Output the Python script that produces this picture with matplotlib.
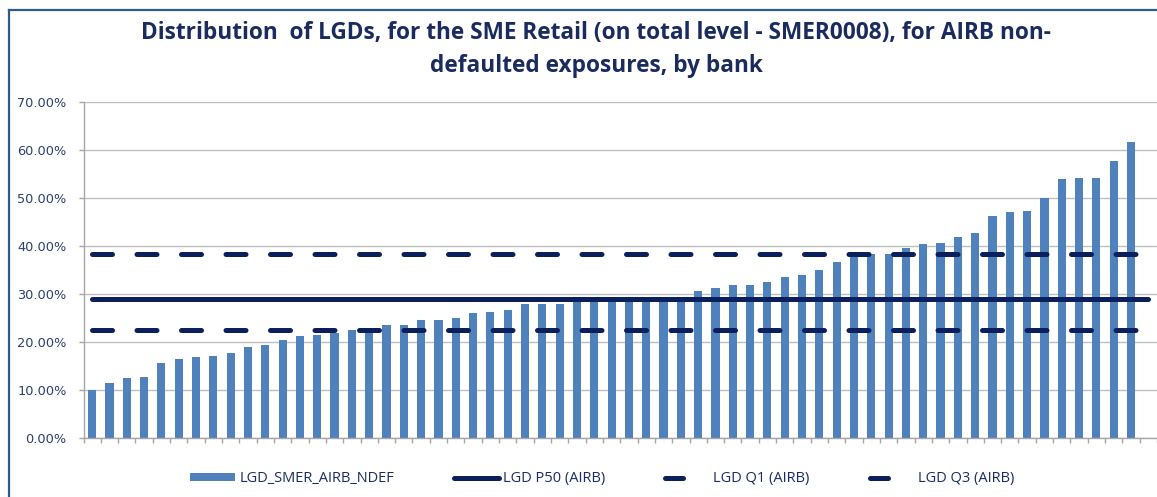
import numpy as np
from matplotlib import pyplot as plt
from matplotlib.lines import Line2D
from matplotlib.patches import Patch
from matplotlib.ticker import FuncFormatter

#======================================================================================================
# Chart data (LGD per bank, sorted ascending, in %)
lgd_values = [10.0, 11.4, 12.4, 12.8, 15.6, 16.4, 16.9, 17.1, 17.6, 19.0,
              19.4, 20.5, 21.2, 21.5, 21.8, 22.4, 22.6, 23.5, 23.6, 24.6,
              24.6, 24.9, 26.1, 26.2, 26.7, 27.8, 27.8, 27.9, 28.5, 28.6,
              28.7, 28.8, 28.9, 29.0, 29.1, 30.6, 31.3, 31.8, 31.8, 32.4,
              33.6, 33.9, 34.9, 36.7, 38.1, 38.3, 38.3, 39.5, 40.3, 40.6,
              41.9, 42.6, 46.2, 47.0, 47.3, 49.9, 54.0, 54.2, 54.2, 57.6,
              61.7]
n_categories = 62          # last category has no bar
lgd_p50 = 28.9
lgd_q1  = 22.5
lgd_q3  = 38.3

y_ticks = [0, 10, 20, 30, 40, 50, 60, 70]

title_line_1 = "Distribution  of LGDs, for the SME Retail (on total level - SMER0008), for AIRB non-"
title_line_2 = "defaulted exposures, by bank"
legend_labels = ["LGD_SMER_AIRB_NDEF", "LGD P50 (AIRB)", "LGD Q1 (AIRB)", "LGD Q3 (AIRB)"]

# Colors
bar_color   = '#4F81BD'
line_color  = '#0B1F5C'
title_color = '#1A2B5F'
tick_color  = '#2A3F70'
grid_color  = '#BFBFBF'
frame_color = '#2F5C85'

#======================================================================================================

def draw_chart():
    W, H = 1157, 497
    fig = plt.figure(figsize=(W / 100, H / 100), dpi=100)

    # outer chart frame (only top and left are visible in the crop)
    fig.add_artist(Line2D([9 / W, 1.0], [1 - 10 / H, 1 - 10 / H], transform=fig.transFigure,
                          color=frame_color, lw=1.6))
    fig.add_artist(Line2D([9 / W, 9 / W], [0.0, 1 - 10 / H], transform=fig.transFigure,
                          color=frame_color, lw=1.6))

    ax = fig.add_axes([83.5 / W, 59 / H, 1 - 83.5 / W, 336.3 / H])

    x_bars = np.arange(len(lgd_values))
    x_all = np.arange(n_categories)

    ax.bar(x_bars, np.array(lgd_values) / 100, width=0.47, color=bar_color, zorder=2)

    lw = 3.6
    ax.plot(x_all, np.full(n_categories, lgd_p50 / 100), color=line_color, lw=lw,
            solid_capstyle='round', zorder=3)
    ax.plot(x_all, np.full(n_categories, lgd_q1 / 100), color=line_color, lw=lw,
            dashes=(4.0, 4.9), dash_capstyle='round', zorder=3)
    ax.plot(x_all, np.full(n_categories, lgd_q3 / 100), color=line_color, lw=lw,
            dashes=(4.0, 4.9), dash_capstyle='round', zorder=3)

    ax.set_xlim(-0.5, n_categories - 0.5)
    ax.set_ylim(0, 0.70)
    ax.set_yticks(np.array(y_ticks) / 100)
    ax.yaxis.set_major_formatter(FuncFormatter(lambda v, pos: '{:.2f}%'.format(v * 100)))
    ax.set_xticks(np.arange(n_categories + 1) - 0.5)
    ax.set_xticklabels([])

    ax.grid(axis='y', color=grid_color, lw=1.0)
    ax.set_axisbelow(True)
    for side in ['top', 'right']:
        ax.spines[side].set_visible(False)
    for side in ['left', 'bottom']:
        ax.spines[side].set_color('#A6A6A6')
        ax.spines[side].set_linewidth(1.0)

    ax.tick_params(axis='y', direction='out', length=3.6, width=1.0, color='#A6A6A6',
                   pad=8.5, labelsize=9.3, labelcolor=tick_color)
    ax.tick_params(axis='x', direction='out', length=3.6, width=1.0, color='#A6A6A6')

    # title, two centred lines
    fig.text(596 / W, 1 - 39.5 / H, title_line_1, ha='center', va='baseline',
             fontsize=16.3, fontweight='bold', family='Open Sans', color=title_color)
    fig.text(596 / W, 1 - 71.5 / H, title_line_2, ha='center', va='baseline',
             fontsize=16.3, fontweight='bold', family='Open Sans', color=title_color)

    # legend
    handles = [Patch(facecolor=bar_color, edgecolor='none'),
               Line2D([0], [0], color=line_color, lw=lw, solid_capstyle='round'),
               Line2D([0], [0], color=line_color, lw=lw, dashes=(3.6, 20), dash_capstyle='round'),
               Line2D([0], [0], color=line_color, lw=lw, dashes=(3.6, 20), dash_capstyle='round')]
    fig.legend(handles, legend_labels, loc='center left', bbox_to_anchor=(183 / W, 1 - 478.7 / H),
               ncol=4, frameon=False, borderpad=0, handlelength=3.08, handleheight=0.45,
               handletextpad=0.27, columnspacing=4.1,
               prop={'family': 'Open Sans', 'size': 10.5}, labelcolor=title_color)

    fig.savefig('out.png', dpi=100)
    return


def main():
    draw_chart()
    return


if __name__ == "__main__":
    main()
